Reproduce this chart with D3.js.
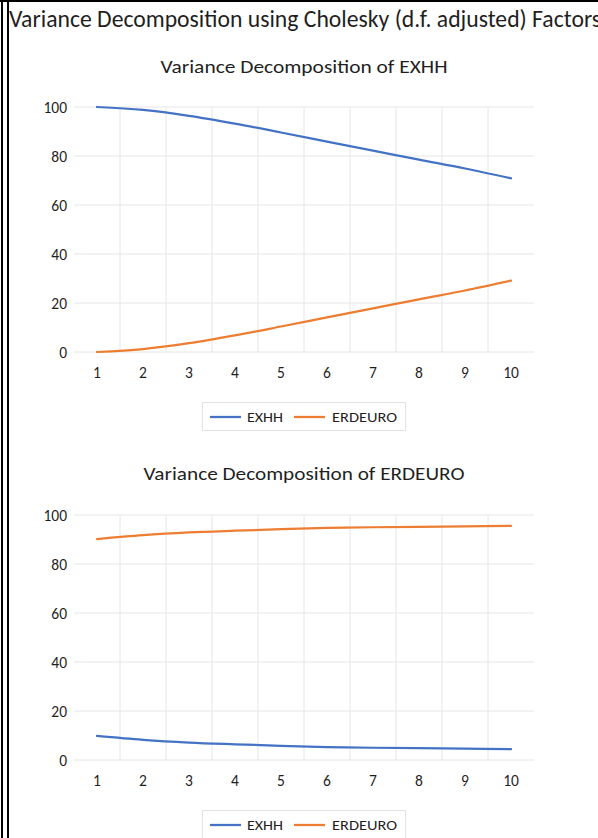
<!DOCTYPE html>
<html>
<head>
<meta charset="utf-8">
<script src="https://cdn.jsdelivr.net/npm/d3@7/dist/d3.min.js"></script>
<style>
  html, body { margin: 0; padding: 0; background: #fff; }
  svg { display: block; }
  text { font-family: Carlito, Calibri, Lato, sans-serif; fill: #1f1f1f; }
</style>
</head>
<body>
<svg id="chart" width="598" height="838"></svg>
<script>
// Forecast horizons (periods)
const periods = [1, 2, 3, 4, 5, 6, 7, 8, 9, 10];
const yTicks = [0, 20, 40, 60, 80, 100];
const seriesNames = ["EXHH", "ERDEURO"];

// Variance decomposition of EXHH (% of forecast error variance)
const exhhByEXHH    = [100.0, 98.8, 96.4, 93.2, 89.6, 85.9, 82.2, 78.5, 74.9, 70.9];
const exhhByERDEURO = [0.0, 1.2, 3.6, 6.8, 10.4, 14.1, 17.8, 21.5, 25.1, 29.1];

// Variance decomposition of ERDEURO
const erdeuroByEXHH    = [9.8, 8.2, 7.1, 6.4, 5.8, 5.3, 5.0, 4.8, 4.6, 4.4];
const erdeuroByERDEURO = [90.2, 91.8, 92.9, 93.6, 94.2, 94.7, 95.0, 95.2, 95.4, 95.6];

const mainTitle = "Variance Decomposition using Cholesky (d.f. adjusted) Factors";
const panels = [
  { title: "Variance Decomposition of EXHH", series: [exhhByEXHH, exhhByERDEURO], titleWidth: 287 },
  { title: "Variance Decomposition of ERDEURO", series: [erdeuroByEXHH, erdeuroByERDEURO], titleWidth: 321 }
];

const colors = ["#4472C4", "#ED7D31"];
const svg = d3.select("#chart");

// Page frame: heavy top rule and double rule on the left
svg.append("rect").attr("x", 0).attr("y", 0).attr("width", 598).attr("height", 2).attr("fill", "#000");
svg.append("rect").attr("x", 1).attr("y", 0).attr("width", 2).attr("height", 838).attr("fill", "#000");
svg.append("rect").attr("x", 7).attr("y", 0).attr("width", 2).attr("height", 838).attr("fill", "#000");

svg.append("text")
  .attr("x", 9).attr("y", 27)
  .attr("font-size", 23.5)
  .attr("textLength", 592).attr("lengthAdjust", "spacingAndGlyphs")
  .attr("fill", "#000")
  .text(mainTitle);

const plotLeft = 74, plotRight = 534;
const x = d3.scaleBand().domain(periods).range([plotLeft, plotRight]);
const xc = d => x(d) + x.bandwidth() / 2;

panels.forEach((p, i) => {
  const off = i * 408;
  const g = svg.append("g").attr("transform", `translate(0,${off})`);
  const y = d3.scaleLinear().domain([0, 100]).range([352, 107]);

  g.append("text")
    .attr("x", 304).attr("y", 73 + (i ? -1 : 0))
    .attr("text-anchor", "middle")
    .attr("font-size", 18)
    .attr("textLength", p.titleWidth).attr("lengthAdjust", "spacingAndGlyphs")
    .attr("fill", "#111")
    .text(p.title);

  // Horizontal gridlines
  g.append("g").selectAll("line").data(yTicks).join("line")
    .attr("x1", plotLeft).attr("x2", plotRight)
    .attr("y1", d => y(d)).attr("y2", d => y(d))
    .attr("stroke", "#e6e6e6").attr("stroke-width", 1);

  // Vertical gridlines between periods
  g.append("g").selectAll("line").data(periods.slice(1)).join("line")
    .attr("x1", d => x(d)).attr("x2", d => x(d))
    .attr("y1", y(100)).attr("y2", y(0))
    .attr("stroke", "#e6e6e6").attr("stroke-width", 1);

  // Y axis labels
  const yAxis = d3.axisLeft(y).tickValues(yTicks).tickSize(0).tickPadding(7);
  const ya = g.append("g").attr("transform", `translate(${plotLeft},0)`).call(yAxis);
  ya.select(".domain").remove();
  ya.selectAll("text").attr("font-size", 15.5).attr("font-family", null).attr("fill", "#1f1f1f").attr("dy", "0.36em");

  // X axis labels
  const xAxis = d3.axisBottom(x).tickSize(0).tickPadding(12);
  const xa = g.append("g").attr("transform", `translate(0,${y(0)})`).call(xAxis);
  xa.select(".domain").remove();
  xa.selectAll("text").attr("font-size", 15.5).attr("font-family", null).attr("fill", "#1f1f1f").attr("dy", "0.9em");

  const line = d3.line()
    .x((d, k) => xc(periods[k]))
    .y(d => y(d))
    .curve(d3.curveCatmullRom.alpha(0.5));

  p.series.forEach((s, k) => {
    g.append("path")
      .attr("d", line(s))
      .attr("fill", "none")
      .attr("stroke", colors[k])
      .attr("stroke-width", 2.25)
      .attr("stroke-linecap", "round");
  });

  // Legend
  const lg = g.append("g");
  lg.append("rect").attr("x", 202.5).attr("y", 402.5).attr("width", 203).attr("height", 28)
    .attr("fill", "#fff").attr("stroke", "#e3e3e3");
  const items = [{ x: 210, tx: 247, w: 36 }, { x: 294, tx: 332, w: 65 }];
  seriesNames.forEach((n, k) => {
    lg.append("line").attr("x1", items[k].x).attr("x2", items[k].x + 31)
      .attr("y1", 417).attr("y2", 417)
      .attr("stroke", colors[k]).attr("stroke-width", 2.25);
    lg.append("text").attr("x", items[k].tx).attr("y", 422)
      .attr("font-size", 14.5)
      .attr("textLength", items[k].w).attr("lengthAdjust", "spacingAndGlyphs")
      .attr("fill", "#1f1f1f").text(n);
  });
});
</script>
</body>
</html>
